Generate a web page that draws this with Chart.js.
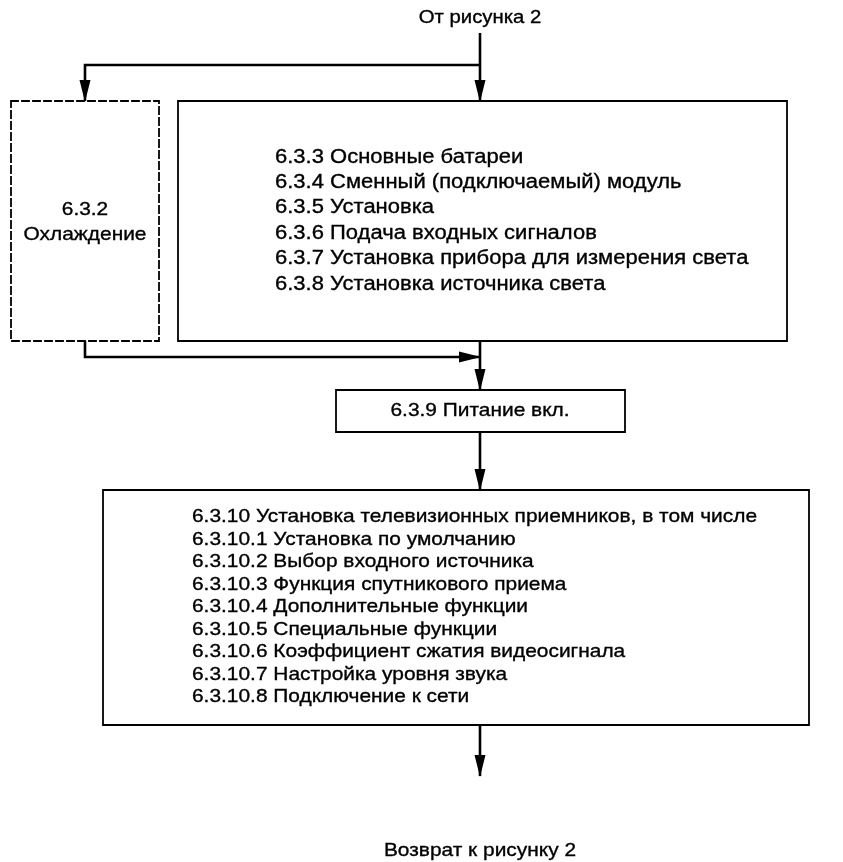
<!DOCTYPE html>
<html>
<head>
<meta charset="utf-8">
<script src="https://cdn.jsdelivr.net/npm/chart.js@4.4.1/dist/chart.umd.min.js"></script>
<style>
  html, body { margin: 0; padding: 0; background: #fff; }
  #flow { display: block; }
</style>
</head>
<body>
<canvas id="flow" width="843" height="862"></canvas>
<script>
// texts of the flowchart
var topLabel = 'От рисунка 2';
var bottomLabel = 'Возврат к рисунку 2';
var coolingLines = ['6.3.2', 'Охлаждение'];
var setupItems = [
    '6.3.3 Основные батареи',
    '6.3.4 Сменный (подключаемый) модуль',
    '6.3.5 Установка',
    '6.3.6 Подача входных сигналов',
    '6.3.7 Установка прибора для измерения света',
    '6.3.8 Установка источника света'
];
var powerLabel = '6.3.9 Питание вкл.';
var tvItems = [
    '6.3.10 Установка телевизионных приемников, в том числе',
    '6.3.10.1 Установка по умолчанию',
    '6.3.10.2 Выбор входного источника',
    '6.3.10.3 Функция спутникового приема',
    '6.3.10.4 Дополнительные функции',
    '6.3.10.5 Специальные функции',
    '6.3.10.6 Коэффициент сжатия видеосигнала',
    '6.3.10.7 Настройка уровня звука',
    '6.3.10.8 Подключение к сети'
];

// layout of the diagram, in scale units (same as page pixels)
var layout = {
    cooling: { l: 11, r: 159, t: 101, b: 341 },
    setup: { l: 178, r: 787, t: 101, b: 341 },
    power: { l: 336, r: 625, t: 390, b: 432 },
    tv: { l: 103, r: 809, t: 490, b: 725 },
    spineX: 480, startY: 33, splitY: 65, mergeY: 357, endY: 776
};

function boxPoints(b) {
    return [
        { x: b.l, y: b.t }, { x: b.r, y: b.t }, { x: b.r, y: b.b },
        { x: b.l, y: b.b }, { x: b.l, y: b.t }
    ];
}
var L = layout;
var coolX = (L.cooling.l + L.cooling.r) / 2;

function box(b, dashed) {
    return {
        data: boxPoints(b), showLine: true, borderColor: '#000', borderWidth: 1.8,
        borderDash: dashed ? [7, 4] : [], pointRadius: 0, borderCapStyle: 'square',
        borderJoinStyle: 'miter', fill: false, tension: 0
    };
}
function wire(pts) {
    return {
        data: pts, showLine: true, borderColor: '#000', borderWidth: 2.6,
        pointRadius: 0, borderJoinStyle: 'miter', fill: false, tension: 0, arrow: true
    };
}

var datasets = [
    box(L.cooling, true),
    box(L.setup, false),
    box(L.power, false),
    box(L.tv, false),
    wire([{ x: L.spineX, y: L.startY }, { x: L.spineX, y: L.setup.t }]),
    wire([{ x: L.spineX, y: L.splitY }, { x: coolX, y: L.splitY }, { x: coolX, y: L.cooling.t }]),
    wire([{ x: coolX, y: L.cooling.b }, { x: coolX, y: L.mergeY }, { x: L.spineX, y: L.mergeY }]),
    wire([{ x: L.spineX, y: L.setup.b }, { x: L.spineX, y: L.power.t }]),
    wire([{ x: L.spineX, y: L.power.b }, { x: L.spineX, y: L.tv.t }]),
    wire([{ x: L.spineX, y: L.tv.b }, { x: L.spineX, y: L.endY }])
];

var arrowHeads = {
    id: 'arrowHeads',
    afterDatasetsDraw: function (chart) {
        var c = chart.ctx;
        chart.data.datasets.forEach(function (ds, i) {
            if (!ds.arrow) return;
            var pts = chart.getDatasetMeta(i).data;
            var a = pts[pts.length - 2], b = pts[pts.length - 1];
            var ang = Math.atan2(b.y - a.y, b.x - a.x);
            var len = 21, half = 5.5;
            c.save();
            c.fillStyle = '#000';
            c.translate(b.x, b.y);
            c.rotate(ang);
            c.beginPath();
            c.moveTo(1, 0);
            c.lineTo(-len, -half);
            c.lineTo(-len, half);
            c.closePath();
            c.fill();
            c.restore();
        });
    }
};

// glyphs in the source are a little wider than Arial, so stretch them
var stretch = 1.1;

var labels = {
    id: 'labels',
    afterDraw: function (chart) {
        var c = chart.ctx, sx = chart.scales.x, sy = chart.scales.y;
        function put(txt, x, y, align, size) {
            c.save();
            c.translate(sx.getPixelForValue(x), sy.getPixelForValue(y));
            c.scale(stretch, 1);
            c.font = size + 'px "Liberation Sans", Arial, sans-serif';
            c.textAlign = align;
            c.textBaseline = 'middle';
            c.fillStyle = '#000';
            c.strokeStyle = '#000';
            c.lineWidth = 0.35;
            c.fillText(txt, 0, 0);
            c.strokeText(txt, 0, 0);
            c.restore();
        }
        put(topLabel, L.spineX, 18, 'center', 18.5);
        put(bottomLabel, L.spineX, 851, 'center', 19);
        coolingLines.forEach(function (t, i) { put(t, coolX, 210 + i * 25, 'center', 19); });
        setupItems.forEach(function (t, i) { put(t, 275, 157 + i * 25.4, 'left', 20); });
        put(powerLabel, L.spineX, (L.power.t + L.power.b) / 2, 'center', 19);
        tvItems.forEach(function (t, i) { put(t, 192, 517 + i * 22.5, 'left', 19); });
    }
};

new Chart(document.getElementById('flow').getContext('2d'), {
    type: 'scatter',
    data: { datasets: datasets },
    options: {
        responsive: false,
        animation: false,
        layout: { padding: 0 },
        plugins: { legend: { display: false }, tooltip: { enabled: false } },
        scales: {
            x: { type: 'linear', min: 0, max: 843, display: false },
            y: { type: 'linear', min: 0, max: 862, reverse: true, display: false }
        }
    },
    plugins: [arrowHeads, labels]
});
</script>
</body>
</html>
